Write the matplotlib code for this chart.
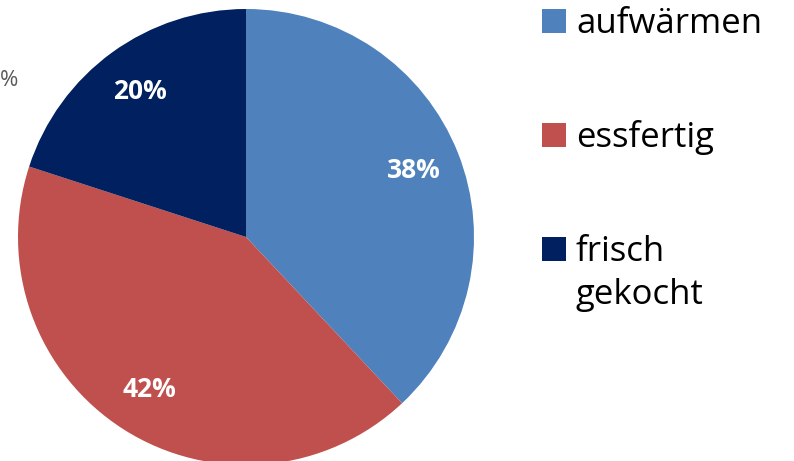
import matplotlib.pyplot as plt
from matplotlib.patches import Rectangle

# Data
categories = ['aufwärmen', 'essfertig', 'frisch\ngekocht']
shares = [38, 42, 20]
colors = ['#4F81BD', '#C0504D', '#002060']

W, H = 794, 461
fig = plt.figure(figsize=(W / 100, H / 100), dpi=100)

# Pie: centre (246, 237) px, radius 228 px
cx, cy, r = 246, 237, 228
ax = fig.add_axes([(cx - r) / W, (H - cy - r) / H, 2 * r / W, 2 * r / H])
wedges, texts, autotexts = ax.pie(
    shares, colors=colors, startangle=90, counterclock=False,
    autopct='%d%%', pctdistance=0.79, radius=1.0,
    textprops=dict(color='white', fontsize=19, fontweight='bold',
                   family='Open Sans'))
ax.set_xlim(-1, 1)
ax.set_ylim(-1, 1)
ax.set_aspect('equal')

# label remnant at the left border
fig.text(0, 1 - 80 / H, '%', ha='left', va='center', fontsize=16,
         color='#595959', family='Open Sans')

# Legend, drawn by hand (baseline of each entry in pixels)
legend_base = [33, 147, 261]
line_gap = 43
for label, col, y in zip(categories, colors, legend_base):
    fig.patches.append(Rectangle((542 / W, 1 - y / H), 24 / W, 24 / H,
                                 transform=fig.transFigure, facecolor=col,
                                 edgecolor='none'))
    for i, line in enumerate(label.split('\n')):
        fig.text(576 / W, 1 - (y + i * line_gap) / H, line, ha='left',
                 va='baseline', fontsize=25, family='Open Sans', color='black')

fig.savefig('out.png', dpi=100)
